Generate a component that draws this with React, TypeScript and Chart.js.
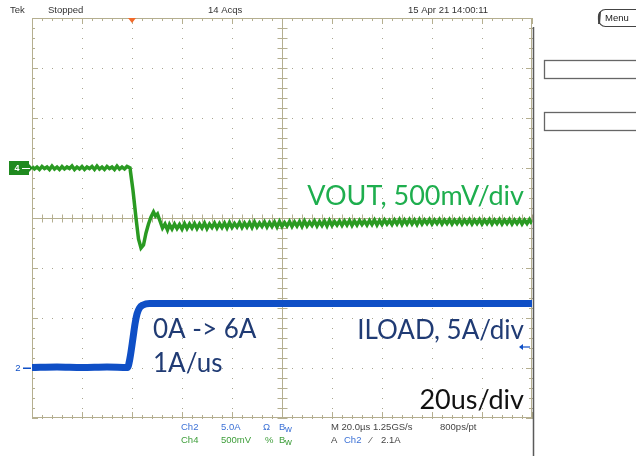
import React, { useEffect, useRef } from "react";
import { Chart, registerables } from "chart.js";

Chart.register(...registerables);

// Time axis in microseconds (20 us/div, 10 divisions); vertical axis in divisions (-4..4)
const voutTime = [
  0, 1, 2, 3, 4, 5, 6, 7, 8, 9, 10, 11, 12, 13, 14, 15, 16, 17, 18, 19,
  20, 21, 22, 23, 24, 25, 26, 27, 28, 29, 30, 31, 32, 33, 34, 35, 36, 37, 38,
  39.2, 40.4, 41.6, 42.6, 43.6, 44.6, 45.6, 46.6, 47.6, 48.6, 49.4, 50.2, 51.2, 52.2, 53.2, 54.2,
  55, 56, 57, 58, 59, 60, 61, 62, 63, 64,
  65, 66, 67, 68, 69, 70, 71, 72, 73, 74,
  75, 76, 77, 78, 79, 80, 81, 82, 83, 84,
  85, 86, 87, 88, 89, 90, 91, 92, 93, 94,
  95, 96, 97, 98, 99, 100, 101, 102, 103, 104,
  105, 106, 107, 108, 109, 110, 111, 112, 113, 114,
  115, 116, 117, 118, 119, 120, 121, 122, 123, 124,
  125, 126, 127, 128, 129, 130, 131, 132, 133, 134,
  135, 136, 137, 138, 139, 140, 141, 142, 143, 144,
  145, 146, 147, 148, 149, 150, 151, 152, 153, 154,
  155, 156, 157, 158, 159, 160, 161, 162, 163, 164,
  165, 166, 167, 168, 169, 170, 171, 172, 173, 174,
  175, 176, 177, 178, 179, 180, 181, 182, 183, 184,
  185, 186, 187, 188, 189, 190, 191, 192, 193, 194,
  195, 196, 197, 198, 199, 200,
];
const voutDiv = [
  1.03, 0.98, 1.02, 0.97, 1.03, 0.99, 1.02, 0.97, 1.04, 0.98, 1.02, 0.97, 1.03, 0.98, 1.02, 0.99, 1.04, 0.97, 1.02, 0.98,
  1.03, 0.97, 1.02, 0.99, 1.03, 0.97, 1.04, 0.98, 1.02, 0.97, 1.03, 0.99, 1.02, 0.97, 1.04, 0.98, 1.02, 0.98, 1.03,
  1.0, 0.55, 0.0, -0.42, -0.6, -0.54, -0.3, -0.12, 0.02, 0.12, 0.04, 0.08, -0.06, -0.2, -0.12, -0.24,
  -0.13, -0.22, -0.12, -0.21, -0.13, -0.22, -0.11, -0.21, -0.12, -0.2,
  -0.11, -0.21, -0.12, -0.2, -0.1, -0.21, -0.12, -0.19, -0.1, -0.2,
  -0.11, -0.19, -0.1, -0.2, -0.09, -0.19, -0.11, -0.18, -0.09, -0.19,
  -0.1, -0.18, -0.09, -0.19, -0.08, -0.18, -0.1, -0.17, -0.08, -0.18,
  -0.09, -0.17, -0.08, -0.18, -0.07, -0.17, -0.09, -0.16, -0.07, -0.17,
  -0.08, -0.16, -0.07, -0.17, -0.06, -0.16, -0.08, -0.15, -0.06, -0.16,
  -0.07, -0.15, -0.06, -0.16, -0.05, -0.15, -0.07, -0.14, -0.06, -0.15,
  -0.06, -0.14, -0.05, -0.15, -0.06, -0.14, -0.05, -0.13, -0.06, -0.14,
  -0.05, -0.13, -0.04, -0.14, -0.05, -0.13, -0.04, -0.12, -0.05, -0.13,
  -0.04, -0.12, -0.03, -0.13, -0.04, -0.12, -0.03, -0.12, -0.04, -0.13,
  -0.03, -0.12, -0.04, -0.11, -0.03, -0.12, -0.04, -0.11, -0.03, -0.12,
  -0.04, -0.11, -0.03, -0.12, -0.04, -0.11, -0.03, -0.12, -0.04, -0.11,
  -0.03, -0.12, -0.04, -0.11, -0.03, -0.12, -0.04, -0.11, -0.03, -0.12,
  -0.04, -0.11, -0.03, -0.12, -0.04, -0.11, -0.03, -0.12, -0.04, -0.11,
  -0.03, -0.12, -0.04, -0.11, -0.03, -0.12,
];

const iloadTime = [0, 10, 20, 30, 38.2, 39.2, 40.4, 41.2, 42, 43, 44.4, 47, 80, 120, 160, 200];
const iloadDiv = [-2.99, -2.98, -2.99, -2.98, -2.99, -2.8, -2.4, -2.12, -1.92, -1.8, -1.74, -1.71, -1.71, -1.71, -1.71, -1.71];

const xTicks = [0, 20, 40, 60, 80, 100, 120, 140, 160, 180, 200];
const yTicks = [-4, -3, -2, -1, 0, 1, 2, 3, 4];

const headerTexts = ["Tek", "Stopped", "14 Acqs", "15 Apr 21 14:00:11"];
const annotVout = "VOUT, 500mV/div";
const annotIload = "ILOAD, 5A/div";
const annotStep = "0A -> 6A";
const annotSlew = "1A/us";
const annotTime = "20us/div";

const GRAT = "#b5af90";
const VOUT_COLOR = "#2a9a22";
const ILOAD_COLOR = "#0f4fc6";
const SMALL = "9.5px 'Liberation Sans', Arial, sans-serif";

const scopePlugin = {
  id: "scope",
  beforeDatasetsDraw(chart: any) {
    const ctx = chart.ctx as CanvasRenderingContext2D;
    const { left, right, top, bottom } = chart.chartArea;
    const xs = chart.scales.x;
    const ys = chart.scales.y;
    ctx.save();
    ctx.fillStyle = "#a9a58f";
    xTicks.forEach((t) => {
      const px = Math.round(xs.getPixelForValue(t));
      for (let y = top; y <= bottom; y += 10) ctx.fillRect(px, y, 1, 1);
    });
    yTicks.forEach((t) => {
      const py = Math.round(ys.getPixelForValue(t));
      for (let x = left; x <= right; x += 10) ctx.fillRect(x, py, 1, 1);
    });
    ctx.strokeStyle = GRAT;
    ctx.lineWidth = 1;
    ctx.strokeRect(left + 0.5, top + 0.5, right - left - 1, bottom - top - 1);
    const cx = Math.round(xs.getPixelForValue(100)) + 0.5;
    const cy = Math.round(ys.getPixelForValue(0)) + 0.5;
    ctx.beginPath();
    ctx.moveTo(cx, top);
    ctx.lineTo(cx, bottom);
    ctx.moveTo(left, cy);
    ctx.lineTo(right, cy);
    let i = 0;
    for (let x = left; x <= right; x += 10, i++) {
      const major = i % 5 === 0;
      const px = x + 0.5;
      ctx.moveTo(px, top);
      ctx.lineTo(px, top + (major ? 6 : 3));
      ctx.moveTo(px, bottom);
      ctx.lineTo(px, bottom - (major ? 6 : 3));
      ctx.moveTo(px, cy - 4);
      ctx.lineTo(px, cy + 4);
    }
    i = 0;
    for (let y = top; y <= bottom; y += 10, i++) {
      const major = i % 5 === 0;
      const py = y + 0.5;
      ctx.moveTo(left, py);
      ctx.lineTo(left + (major ? 6 : 3), py);
      ctx.moveTo(right, py);
      ctx.lineTo(right - (major ? 6 : 3), py);
      ctx.moveTo(cx - 5, py);
      ctx.lineTo(cx + 5, py);
    }
    ctx.stroke();
    ctx.restore();
  },
  afterDatasetsDraw(chart: any) {
    const ctx = chart.ctx as CanvasRenderingContext2D;
    const { right, top } = chart.chartArea;
    const xs = chart.scales.x;
    const ys = chart.scales.y;
    ctx.save();
    ctx.strokeStyle = "#5a5a5a";
    ctx.lineWidth = 1.5;
    ctx.beginPath();
    ctx.moveTo(right + 1.5, top + 9);
    ctx.lineTo(right + 1.5, 456);
    ctx.stroke();

    // header
    ctx.fillStyle = "#333";
    ctx.font = SMALL;
    ctx.textBaseline = "middle";
    ctx.textAlign = "left";
    const hx = [10, 48, 208, 408];
    headerTexts.forEach((t, k) => ctx.fillText(t, hx[k], 10));

    // trigger position marker
    const tp = xs.getPixelForValue(40);
    ctx.fillStyle = "#f26a2a";
    ctx.beginPath();
    ctx.moveTo(tp - 4, top);
    ctx.lineTo(tp + 4, top);
    ctx.lineTo(tp, top + 5);
    ctx.closePath();
    ctx.fill();

    // channel 4 marker
    const y4 = ys.getPixelForValue(1);
    ctx.fillStyle = "#1f8a1f";
    ctx.fillRect(9, y4 - 7, 20, 14);
    ctx.beginPath();
    ctx.moveTo(29, y4 - 4);
    ctx.lineTo(33, y4);
    ctx.lineTo(29, y4 + 4);
    ctx.fill();
    ctx.fillStyle = "#fff";
    ctx.font = "bold 9px 'Liberation Sans', Arial, sans-serif";
    ctx.textAlign = "center";
    ctx.fillText("4", 17, y4 + 1);
    ctx.fillRect(22, y4, 8, 1);

    // channel 2 marker
    const y2 = ys.getPixelForValue(-2.99);
    ctx.fillStyle = ILOAD_COLOR;
    ctx.font = SMALL;
    ctx.fillText("2", 18, y2 + 1);
    ctx.fillRect(23, y2, 8, 1.5);

    // trigger level arrow
    const tl = ys.getPixelForValue(-2.58);
    ctx.strokeStyle = ILOAD_COLOR;
    ctx.lineWidth = 1.2;
    ctx.beginPath();
    ctx.moveTo(right - 2, tl);
    ctx.lineTo(right - 12, tl);
    ctx.stroke();
    ctx.beginPath();
    ctx.moveTo(right - 13, tl);
    ctx.lineTo(right - 9, tl - 3);
    ctx.lineTo(right - 9, tl + 3);
    ctx.closePath();
    ctx.fill();

    // annotations
    ctx.textBaseline = "alphabetic";
    ctx.textAlign = "right";
    ctx.font = "27px Lato, 'Noto Sans', sans-serif";
    ctx.fillStyle = "#1eae4e";
    ctx.fillText(annotVout, right - 8, 205);
    ctx.fillStyle = "#111";
    ctx.fillText(annotTime, right - 8, 409);
    ctx.font = "26px Lato, 'Noto Sans', sans-serif";
    ctx.fillStyle = "#203b74";
    ctx.fillText(annotIload, right - 8, 339);
    ctx.textAlign = "left";
    ctx.fillText(annotStep, 153, 338);
    ctx.fillText(annotSlew, 153, 372);

    // bottom readouts
    ctx.font = SMALL;
    ctx.textBaseline = "middle";
    ctx.fillStyle = "#3d72d6";
    ctx.fillText("Ch2", 181, 427);
    ctx.fillText("5.0A", 221, 427);
    ctx.fillText("Ω", 263, 427);
    ctx.fillText("B", 279, 427);
    ctx.fillText("w", 285, 429);
    ctx.fillStyle = "#3e9e3a";
    ctx.fillText("Ch4", 181, 440);
    ctx.fillText("500mV", 221, 440);
    ctx.fillText("%", 265, 440);
    ctx.fillText("B", 279, 440);
    ctx.fillText("w", 285, 442);
    ctx.fillStyle = "#444";
    ctx.fillText("M 20.0µs 1.25GS/s", 331, 427);
    ctx.fillText("800ps/pt", 440, 427);
    ctx.fillText("A", 331, 440);
    ctx.fillText("⁄", 370, 440);
    ctx.fillText("2.1A", 381, 440);
    ctx.fillStyle = "#3d72d6";
    ctx.fillText("Ch2", 344, 440);

    // right side panel
    ctx.strokeStyle = "#444";
    ctx.lineWidth = 1.2;
    ctx.beginPath();
    ctx.roundRect(598.5, 9.5, 50, 17, 7);
    ctx.stroke();
    ctx.lineWidth = 2;
    ctx.beginPath();
    ctx.moveTo(600, 12);
    ctx.lineTo(599, 24);
    ctx.stroke();
    ctx.fillStyle = "#222";
    ctx.font = SMALL;
    ctx.textAlign = "left";
    ctx.fillText("Menu", 605, 18);
    ctx.strokeStyle = "#666";
    ctx.lineWidth = 1.3;
    ctx.strokeRect(544.5, 60.5, 100, 18);
    ctx.strokeRect(544.5, 112.5, 100, 18);
    ctx.restore();
  },
};

export default function App() {
  const ref = useRef<HTMLCanvasElement>(null);
  useEffect(() => {
    if (!ref.current) return;
    const chart = new Chart(ref.current, {
      type: "line",
      data: {
        datasets: [
          {
            label: "VOUT",
            data: voutTime.map((t, k) => ({ x: t, y: voutDiv[k] })),
            borderColor: VOUT_COLOR,
            borderWidth: 3.5,
            pointRadius: 0,
            tension: 0,
          },
          {
            label: "ILOAD",
            data: iloadTime.map((t, k) => ({ x: t, y: iloadDiv[k] })),
            borderColor: ILOAD_COLOR,
            borderWidth: 7,
            pointRadius: 0,
            tension: 0.3,
            cubicInterpolationMode: "monotone",
          },
        ],
      },
      options: {
        animation: false,
        responsive: false,
        layout: { padding: { left: 32, right: 104, top: 18, bottom: 38 } },
        scales: {
          x: { type: "linear", min: 0, max: 200, display: false },
          y: { type: "linear", min: -4, max: 4, display: false },
        },
        plugins: { legend: { display: false }, tooltip: { enabled: false } },
      },
      plugins: [scopePlugin],
    } as any);
    return () => chart.destroy();
  }, []);
  return (
    <div style={{ position: "fixed", left: 0, top: 0, width: 636, height: 456, background: "#fff" }}>
      <canvas ref={ref} width={636} height={456} style={{ display: "block" }} />
    </div>
  );
}
